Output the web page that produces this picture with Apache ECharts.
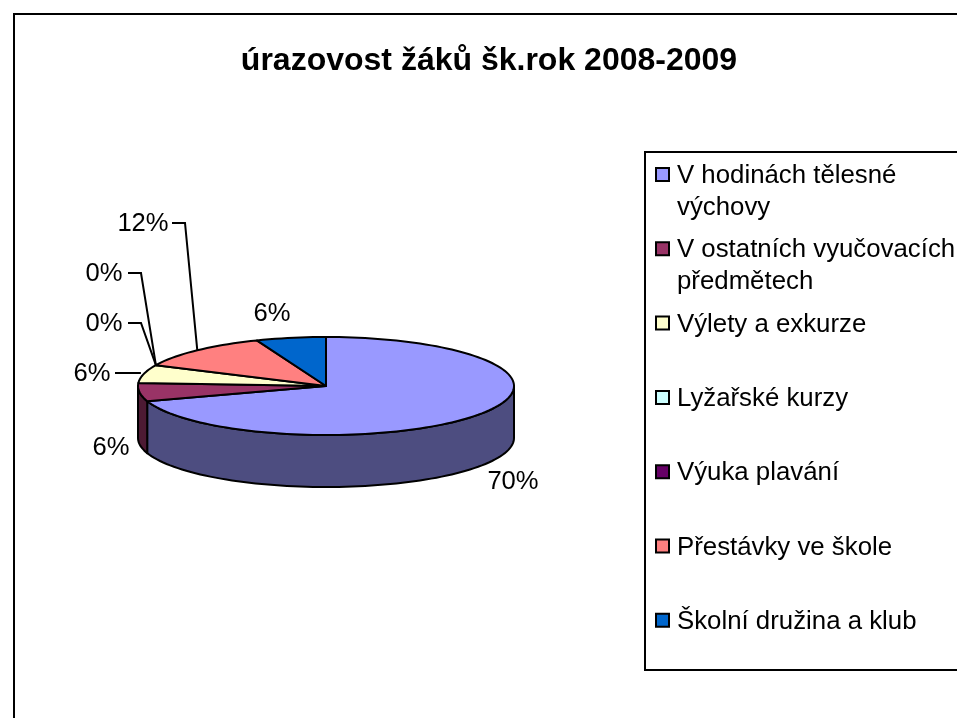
<!DOCTYPE html>
<html>
<head>
<meta charset="utf-8">
<title>úrazovost žáků</title>
<style>
html, body { margin: 0; padding: 0; background: #fff; overflow: hidden; }
#chart { width: 957px; height: 718px; }
</style>
<script src="https://cdn.jsdelivr.net/npm/echarts@6/dist/echarts.min.js"></script>
</head>
<body>
<div id="chart"></div>
<script>
var titleText = 'úrazovost žáků šk.rok 2008-2009';
var categories = ['V hodinách tělesné\nvýchovy', 'V ostatních vyučovacích\npředmětech', 'Výlety a exkurze',
    'Lyžařské kurzy', 'Výuka plavání', 'Přestávky ve škole', 'Školní družina a klub'];
var shares = [70, 6, 6, 0, 0, 12, 6];
var topColors = ['#9999FF', '#993366', '#FFFFCC', '#CCFFFF', '#660066', '#FF8080', '#0066CC'];
var sideColors = ['#4D4D80', '#4D1A33', '#808066', '#668080', '#330033', '#804040', '#003366'];

// pie geometry, tilted disc
var cx = 326, cy = 386, rx = 188, ry = 49, depth = 52;
var fontName = '"Liberation Sans", Arial, sans-serif';

// where each percent label sits, elbow is the end of the horizontal part of the leader line
var labelSpots = [
    {x: 513, y: 482},
    {x: 111, y: 448},
    {x: 92, y: 374, from: 115, elbow: null},
    {x: 104, y: 324, from: 128, elbow: 141},
    {x: 104, y: 274, from: 128, elbow: 141},
    {x: 143, y: 224, from: 172, elbow: 185},
    {x: 272, y: 314}
];

var total = shares.reduce(function (a, b) { return a + b; }, 0);

function sliceRange(idx) {
    var before = 0;
    for (var i = 0; i < idx; i++) {
        before += shares[i];
    }
    return [before / total * 360, (before + shares[idx]) / total * 360];
}

// angle is clockwise from the top of the disc
function rimPoint(deg, drop) {
    var a = deg * Math.PI / 180;
    return [cx + rx * Math.sin(a), cy - ry * Math.cos(a) + (drop || 0)];
}

function arcPoints(from, to, drop) {
    var pts = [];
    var steps = Math.max(2, Math.ceil((to - from) / 2));
    for (var i = 0; i <= steps; i++) {
        pts.push(rimPoint(from + (to - from) * i / steps, drop));
    }
    return pts;
}

var edge = {stroke: '#000', lineWidth: 2, lineJoin: 'round'};

function renderSide(params, api) {
    var idx = api.value(0);
    var range = sliceRange(idx);
    // only the front half of the wall can be seen
    var from = Math.max(range[0], 90), to = Math.min(range[1], 270);
    if (shares[idx] === 0 || to <= from) {
        return {type: 'group', children: []};
    }
    var pts = arcPoints(from, to, 0).concat(arcPoints(from, to, depth).reverse());
    return {
        type: 'polygon',
        shape: {points: pts},
        style: Object.assign({fill: sideColors[idx]}, edge)
    };
}

function renderTop(params, api) {
    var idx = api.value(0);
    var range = sliceRange(idx);
    if (shares[idx] === 0) {
        return {type: 'group', children: []};
    }
    var pts = [[cx, cy]].concat(arcPoints(range[0], range[1], 0));
    return {
        type: 'polygon',
        shape: {points: pts},
        style: Object.assign({fill: topColors[idx]}, edge)
    };
}

function renderLabel(params, api) {
    var idx = api.value(0);
    var spot = labelSpots[idx];
    var range = sliceRange(idx);
    var children = [{
        type: 'text',
        style: {
            text: shares[idx] + '%',
            x: spot.x,
            y: spot.y,
            fill: '#000',
            font: '25.6px ' + fontName,
            align: 'center',
            verticalAlign: 'middle'
        }
    }];
    if (spot.from) {
        var end = rimPoint((range[0] + range[1]) / 2, 0);
        var lineY = spot.y - 1;
        var pts = [[spot.from, lineY]];
        if (spot.elbow) {
            pts.push([spot.elbow, lineY]);
        } else {
            // no elbow, the leader stays level up to the rim
            end = [end[0] - 3, lineY];
        }
        pts.push(end);
        children.push({
            type: 'polyline',
            shape: {points: pts},
            style: {stroke: '#000', lineWidth: 2, fill: null}
        });
    }
    return {type: 'group', children: children};
}

// legend is drawn by hand, long names wrap and the swatch stays on the first line
function buildLegend() {
    var els = [{
        type: 'rect',
        shape: {x: 645, y: 152, width: 400, height: 518},
        style: {fill: '#fff', stroke: '#000', lineWidth: 2}
    }];
    categories.forEach(function (name, i) {
        var rowY = 175 + i * 74.3;
        els.push({
            type: 'rect',
            shape: {x: 656, y: rowY - 7, width: 13, height: 13},
            style: {fill: topColors[i], stroke: '#000', lineWidth: 2}
        });
        name.split('\n').forEach(function (line, n) {
            els.push({
                type: 'text',
                style: {
                    text: line,
                    x: 677,
                    y: rowY + 1 + n * 32,
                    fill: '#000',
                    font: '25.8px ' + fontName,
                    verticalAlign: 'middle'
                }
            });
        });
    });
    return els;
}

var rows = shares.map(function (v, i) { return [i, v]; });

var chart = echarts.init(document.getElementById('chart'), null, {renderer: 'canvas'});
chart.setOption({
    animation: false,
    backgroundColor: '#fff',
    title: {
        text: titleText,
        left: 484,
        top: 40,
        textAlign: 'center',
        textStyle: {color: '#000', fontFamily: fontName, fontSize: 32, fontWeight: 'bold'}
    },
    graphic: [{
        type: 'rect',
        z: -1,
        shape: {x: 14, y: 14, width: 1000, height: 1000},
        style: {fill: 'transparent', stroke: '#000', lineWidth: 2}
    }, {
        type: 'group',
        children: buildLegend()
    }],
    series: [
        {type: 'custom', coordinateSystem: 'none', silent: true, z: 2, data: rows, renderItem: renderSide},
        {type: 'custom', coordinateSystem: 'none', silent: true, z: 3, data: rows, renderItem: renderTop},
        {type: 'custom', coordinateSystem: 'none', silent: true, z: 4, data: rows, renderItem: renderLabel}
    ]
});
</script>
</body>
</html>
